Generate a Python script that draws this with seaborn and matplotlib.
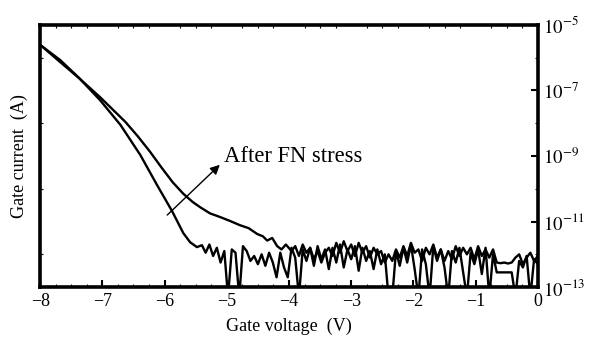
import numpy as np
import pandas as pd
import seaborn as sns
import matplotlib.pyplot as plt
from matplotlib.ticker import FixedLocator, NullFormatter

# gate voltage (V) and log10 of gate current (A)
fresh_v = [-8.00, -7.68, -7.39, -7.04, -6.71, -6.39, -6.12, -5.88, -5.70, -5.59,
           -5.48, -5.40, -5.34, -5.28, -5.22, -5.16, -5.10, -5.04, -4.98, -4.92,
           -4.86, -4.80, -4.74, -4.68, -4.62, -4.56, -4.50, -4.44, -4.38, -4.32,
           -4.26, -4.20, -4.14, -4.08, -4.02, -3.96, -3.90, -3.84, -3.78, -3.72,
           -3.66, -3.60, -3.54, -3.48, -3.42, -3.36, -3.30, -3.24, -3.18, -3.12,
           -3.06, -3.00, -2.94, -2.88, -2.82, -2.76, -2.70, -2.64, -2.58, -2.52,
           -2.46, -2.40, -2.34, -2.28, -2.22, -2.16, -2.10, -2.04, -1.98, -1.92,
           -1.86, -1.80, -1.74, -1.68, -1.62, -1.56, -1.50, -1.44, -1.38, -1.32,
           -1.26, -1.20, -1.14, -1.08, -1.02, -0.96, -0.90, -0.84, -0.78, -0.72,
           -0.66, -0.60, -0.54, -0.48, -0.42, -0.36, -0.30, -0.24, -0.18, -0.12,
           -0.06, 0.00]
fresh_log = [-5.61, -6.07, -6.59, -7.29, -8.05, -8.97, -9.89, -10.68, -11.35, -11.63,
             -11.78, -11.72, -11.95, -11.70, -12.05, -11.80, -12.25, -11.90, -13.30, -11.85,
             -11.95, -13.30, -11.75, -11.90, -12.20, -12.05, -12.30, -12.00, -12.35, -11.95,
             -12.25, -12.70, -11.95, -12.40, -12.70, -11.80, -12.10, -13.30, -11.85, -12.20,
             -11.80, -12.35, -11.75, -12.15, -11.85, -12.45, -11.80, -12.25, -11.70, -12.40,
             -11.85, -12.15, -11.75, -12.50, -11.80, -12.20, -11.90, -12.45, -11.85, -12.30,
             -12.00, -13.30, -13.30, -11.90, -12.35, -11.80, -12.25, -11.70, -12.45, -13.30,
             -11.85, -12.30, -13.30, -11.75, -12.20, -11.85, -12.40, -13.30, -11.90, -12.25,
             -11.80, -12.55, -13.30, -11.95, -12.30, -11.85, -12.60, -11.80, -13.30, -12.00,
             -12.55, -12.55, -12.55, -12.55, -12.55, -13.30, -12.20, -12.40, -12.05, -13.30,
             -12.15, -12.30]

after_v = [-8.00, -7.70, -7.36, -7.04, -6.63, -6.43, -6.23, -6.05, -5.87, -5.70,
           -5.55, -5.43, -5.27, -5.11, -4.95, -4.79, -4.65, -4.51, -4.42, -4.35,
           -4.27, -4.19, -4.12, -4.05, -3.96, -3.90, -3.84, -3.78, -3.72, -3.66,
           -3.60, -3.54, -3.48, -3.42, -3.36, -3.30, -3.24, -3.18, -3.12, -3.06,
           -3.00, -2.94, -2.88, -2.82, -2.76, -2.70, -2.64, -2.58, -2.52, -2.46,
           -2.40, -2.34, -2.28, -2.22, -2.16, -2.10, -2.04, -1.98, -1.92, -1.86,
           -1.80, -1.74, -1.68, -1.62, -1.56, -1.50, -1.44, -1.38, -1.32, -1.26,
           -1.20, -1.14, -1.08, -1.02, -0.96, -0.90, -0.84, -0.78, -0.72, -0.66,
           -0.60, -0.54, -0.48, -0.42, -0.36, -0.30, -0.24, -0.18, -0.12, -0.06,
           0.00]
after_log = [-5.61, -6.10, -6.65, -7.20, -7.96, -8.40, -8.88, -9.35, -9.80, -10.15,
             -10.40, -10.56, -10.75, -10.86, -10.98, -11.11, -11.20, -11.38, -11.45, -11.58,
             -11.50, -11.75, -11.85, -11.70, -11.90, -11.75, -12.05, -11.70, -11.95, -11.80,
             -12.15, -11.90, -12.25, -11.95, -11.80, -12.05, -11.65, -11.95, -11.60, -11.90,
             -11.70, -12.05, -11.65, -11.95, -11.75, -12.10, -11.80, -12.00, -11.90, -12.25,
             -12.00, -12.20, -11.85, -12.10, -11.75, -12.05, -11.65, -11.95, -11.85, -12.20,
             -11.80, -12.00, -11.70, -12.10, -11.85, -12.20, -11.90, -12.15, -11.75, -12.05,
             -11.80, -12.00, -11.80, -12.15, -11.75, -12.05, -11.85, -12.10, -11.85, -12.25,
             -12.27, -12.25, -12.28, -12.25, -12.10, -12.00, -12.30, -12.10, -11.95, -12.20,
             -12.05]

x_ticks = [-8, -7, -6, -5, -4, -3, -2, -1, 0]
x_labels = ['\u22128', '\u22127', '\u22126', '\u22125', '\u22124', '\u22123', '\u22122', '\u22121', '0']
y_ticks = [1e-13, 1e-11, 1e-9, 1e-7, 1e-5]
y_labels = ['$10^{-13}$', '$10^{-11}$', '$10^{-9}$', '$10^{-7}$', '$10^{-5}$']

df = pd.concat([
    pd.DataFrame({'v': fresh_v, 'i': 10 ** np.array(fresh_log), 'curve': 'fresh'}),
    pd.DataFrame({'v': after_v, 'i': 10 ** np.array(after_log), 'curve': 'after'}),
])

sns.set_style('ticks')
plt.rcParams['font.family'] = ['Liberation Serif', 'DejaVu Serif']
plt.rcParams['mathtext.fontset'] = 'stix'
for key in ['axes.edgecolor', 'text.color', 'axes.labelcolor', 'xtick.color', 'ytick.color']:
    plt.rcParams[key] = 'black'

fig, ax = plt.subplots(figsize=(5.91, 3.41), dpi=100)
fig.subplots_adjust(left=0.068, right=0.910, top=0.927, bottom=0.158)

sns.lineplot(data=df, x='v', y='i', hue='curve', units='curve', estimator=None,
             palette=['black', 'black'], linewidth=1.7, sort=False, legend=False, ax=ax)

ax.set_yscale('log')
ax.set_xlim(-8, 0)
ax.set_ylim(1e-13, 1e-5)

ax.set_xticks(x_ticks)
ax.set_xticklabels(x_labels, fontsize=13)
ax.xaxis.set_minor_locator(FixedLocator([v / 4 for v in range(-32, 1)]))

ax.yaxis.tick_right()
ax.yaxis.set_label_position('left')
ax.set_yticks(y_ticks)
ax.set_yticklabels(y_labels, fontsize=13.5)
ax.yaxis.set_minor_locator(FixedLocator([1e-12, 1e-10, 1e-8, 1e-6]))
ax.yaxis.set_minor_formatter(NullFormatter())

ax.tick_params(which='major', direction='in', length=5, width=1.5, top=False, left=False, right=True, pad=4)
ax.tick_params(which='minor', direction='in', length=2, width=0.8, top=True, right=True, left=True)

for s in ax.spines.values():
    s.set_linewidth(2.6)
    s.set_visible(True)

ax.set_xlabel('Gate voltage  (V)', fontsize=13, labelpad=6)
ax.set_ylabel('Gate current  (A)', fontsize=13, labelpad=9)

ax.annotate('', xy=(-5.08, 10 ** -9.21), xytext=(-5.99, 10 ** -10.86),
            arrowprops=dict(arrowstyle='-|>', color='black', lw=1.0, mutation_scale=14))
ax.text(-5.05, 10 ** -9.0, 'After FN stress', fontsize=16.3, va='center', ha='left')

fig.savefig('out.png', dpi=100)
